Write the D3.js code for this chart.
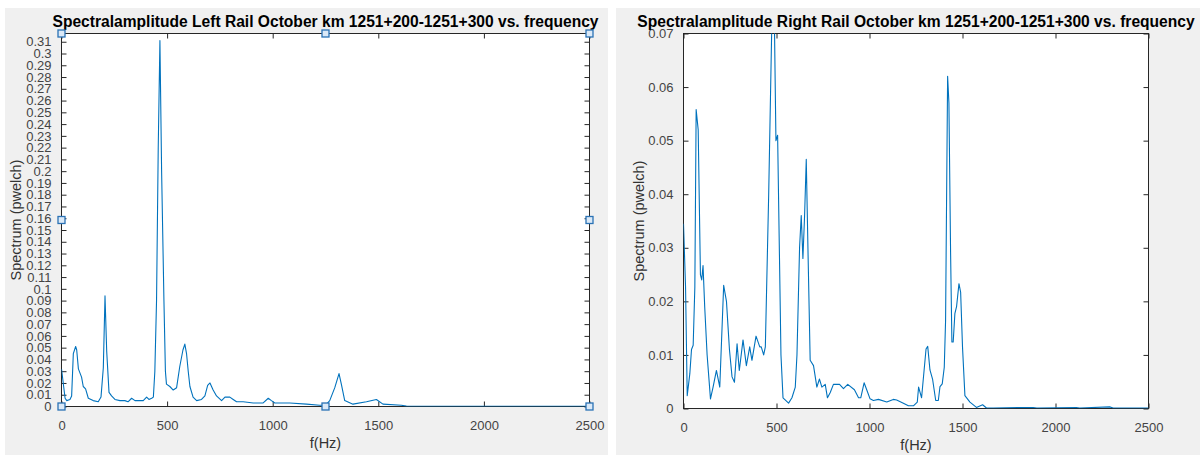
<!DOCTYPE html>
<html>
<head>
<meta charset="utf-8">
<script src="https://cdn.jsdelivr.net/npm/d3@7"></script>
<style>
    body { margin: 0; background: #fff; }
    svg { display: block; font-family: "Liberation Sans", Arial, sans-serif; }
    .tick text { fill: #444; font-size: 13px; }
    .tick line { stroke: #262626; }
    .domain { display: none; }
    .frame { fill: #fff; stroke: #262626; stroke-width: 1; }
    .curve { fill: none; stroke: #0072bd; stroke-width: 1.1; stroke-linejoin: round; }
    .title { font-weight: bold; font-size: 15.6px; fill: #000; }
    .label { font-size: 14.5px; fill: #333; }
    .handle { fill: #dbe9f7; stroke: #2a72b5; stroke-width: 1.3; }
</style>
</head>
<body>
<svg id="fig" width="1200" height="455"></svg>
<script>

var xTicks = [0, 500, 1000, 1500, 2000, 2500];

var leftTitle = "Spectralamplitude Left Rail October km 1251+200-1251+300 vs. frequency";
var leftYTicks = d3.range(0, 32).map(function(i) { return i / 100; });
var leftFreq = [0, 17, 25, 40, 48, 56, 67, 72, 80, 95, 103, 114, 127, 150, 174, 187, 198, 206, 214, 225,
    237, 253, 277, 300, 315, 332, 348, 371, 387, 403, 414, 427, 435, 442, 450, 458, 466, 474, 485, 492,
    497, 513, 529, 545, 560, 575, 584, 592, 600, 608, 623, 640, 663, 679, 692, 703, 718, 734, 758, 774,
    797, 813, 829, 860, 908, 955, 979, 994, 1010, 1081, 1160, 1222, 1250, 1270, 1294, 1314, 1325, 1341, 1380, 1444,
    1491, 1522, 1609, 1633, 2000, 2500];
var leftAmp = [0.032, 0.007, 0.005, 0.006, 0.009, 0.045, 0.051, 0.048, 0.032, 0.025, 0.017, 0.015, 0.007, 0.005, 0.004, 0.008, 0.033, 0.094, 0.047, 0.012,
    0.009, 0.006, 0.005, 0.005, 0.004, 0.007, 0.005, 0.005, 0.005, 0.008, 0.006, 0.007, 0.008, 0.03, 0.09, 0.22, 0.311, 0.2, 0.09, 0.03,
    0.019, 0.017, 0.014, 0.016, 0.034, 0.048, 0.053, 0.045, 0.03, 0.017, 0.008, 0.005, 0.006, 0.009, 0.018, 0.02, 0.014, 0.009, 0.005, 0.008,
    0.008, 0.006, 0.004, 0.004, 0.003, 0.003, 0.007, 0.005, 0.003, 0.003, 0.002, 0.001, 0.001, 0.005, 0.016, 0.028, 0.019, 0.005, 0.002, 0.004,
    0.006, 0.002, 0.001, 0.0003, 0.0002, 0.0002];

var rightTitle = "Spectralamplitude Right Rail October km 1251+200-1251+300 vs. frequency";
var rightYTicks = [0, 0.01, 0.02, 0.03, 0.04, 0.05, 0.06, 0.07];
var rightFreq = [0, 11, 20, 34, 43, 52, 61, 68, 79, 91, 98, 105, 114, 127, 145, 159, 177, 195, 216, 231,
    247, 261, 274, 288, 300, 320, 338, 356, 368, 390, 410, 418, 431, 440, 458, 476, 488, 497, 506, 524,
    535, 565, 583, 601, 610, 624, 633, 642, 651, 660, 669, 681, 699, 717, 731, 744, 762, 774, 789, 806,
    839, 860, 883, 919, 941, 953, 971, 985, 1003, 1021, 1048, 1093, 1128, 1146, 1182, 1209, 1236, 1257, 1264, 1280,
    1304, 1313, 1325, 1339, 1356, 1370, 1379, 1391, 1402, 1409, 1420, 1427, 1436, 1443, 1450, 1459, 1468, 1481, 1490, 1500,
    1513, 1540, 1575, 1608, 1629, 1665, 1880, 1900, 2112, 2130, 2291, 2310, 2500];
var rightAmp = [0.0345, 0.0227, 0.0024, 0.0065, 0.011, 0.0118, 0.0227, 0.0558, 0.052, 0.025, 0.024, 0.0267, 0.019, 0.01, 0.0018, 0.004, 0.0071, 0.004, 0.023, 0.02,
    0.011, 0.0059, 0.0049, 0.0121, 0.0071, 0.0128, 0.008, 0.0115, 0.009, 0.0135, 0.0115, 0.0115, 0.01, 0.0115, 0.04, 0.074, 0.074, 0.05, 0.051, 0.01,
    0.002, 0.001, 0.002, 0.004, 0.01, 0.03, 0.036, 0.028, 0.036, 0.0465, 0.03, 0.009, 0.008, 0.004, 0.0055, 0.004, 0.0045, 0.002, 0.003, 0.0045,
    0.0045, 0.0037, 0.0045, 0.0035, 0.002, 0.002, 0.0048, 0.0035, 0.0018, 0.0015, 0.0017, 0.0012, 0.0017, 0.0016, 0.001, 0.0005, 0.0005, 0.0012, 0.004, 0.002,
    0.0111, 0.0116, 0.0072, 0.0055, 0.0015, 0.0015, 0.0041, 0.0046, 0.0077, 0.0164, 0.062, 0.057, 0.029, 0.0124, 0.0124, 0.0177, 0.019, 0.0233, 0.0217, 0.0115,
    0.0024, 0.0012, 0.0002, 0.0007, 0.0001, 0.0001, 0.0002, 0.0001, 0.0002, 0.0001, 0.0003, 0.0001, 0.0001];


var svg = d3.select("#fig");

// two figure panels, grey like the matlab window
svg.append("rect").attr("x", 5).attr("y", 8).attr("width", 603).attr("height", 447).attr("fill", "#f0f0f0");
svg.append("rect").attr("x", 616).attr("y", 8).attr("width", 584).attr("height", 447).attr("fill", "#f0f0f0");

function fmt(d) {
    return d3.format(".2~f")(d);
}

function panel(opt) {
    var w = opt.right - opt.left
        , h = opt.bottom - opt.top
        , tk = opt.tick;

    var g = svg.append("g")
        .attr("transform", "translate(" + (opt.left + 0.5) + "," + (opt.top + 0.5) + ")");

    var x = d3.scaleLinear().domain([0, 2500]).range([0, w]);
    var y = d3.scaleLinear().domain([0, opt.ymax]).range([h, 0]);

    g.append("rect")
        .attr("class", "frame")
        .attr("width", w)
        .attr("height", h);

    g.append("clipPath")
        .attr("id", opt.id)
        .append("rect")
        .attr("width", w)
        .attr("height", h);

    // inward ticks on all four sides
    g.append("g")
        .attr("transform", "translate(0," + h + ")")
        .call(d3.axisBottom(x).tickValues(xTicks).tickSize(-tk).tickPadding(9 + tk).tickFormat(d3.format("d")));

    g.append("g")
        .call(d3.axisTop(x).tickValues(xTicks).tickSize(-tk).tickFormat(""));

    g.append("g")
        .call(d3.axisLeft(y).tickValues(opt.yticks).tickSize(-tk).tickPadding(5 + tk).tickFormat(fmt));

    g.append("g")
        .attr("transform", "translate(" + w + ",0)")
        .call(d3.axisRight(y).tickValues(opt.yticks).tickSize(-tk).tickFormat(""));

    var pts = opt.freq.map(function(f, i) { return [f, opt.amp[i]]; });

    var line = d3.line()
        .x(function(d) { return x(d[0]); })
        .y(function(d) { return y(d[1]); });

    g.append("path")
        .datum(pts)
        .attr("class", "curve")
        .attr("clip-path", "url(#" + opt.id + ")")
        .attr("d", line);

    g.append("text")
        .attr("class", "title")
        .attr("x", w / 2)
        .attr("y", -7)
        .attr("text-anchor", "middle")
        .text(opt.title);

    g.append("text")
        .attr("class", "label")
        .attr("x", w / 2)
        .attr("y", h + 41)
        .attr("text-anchor", "middle")
        .text("f(Hz)");

    g.append("text")
        .attr("class", "label")
        .attr("transform", "translate(" + opt.ylabelX + "," + (h / 2) + ") rotate(-90)")
        .attr("text-anchor", "middle")
        .text("Spectrum (pwelch)");

    if (opt.handles) {
        var hs = 7;
        var spots = [];
        [0, w / 2, w].forEach(function(hx) {
            [0, h / 2, h].forEach(function(hy) {
                if (hx === w / 2 && hy === h / 2) return;
                spots.push([hx, hy]);
            });
        });
        g.selectAll(".handle")
            .data(spots)
            .enter().append("rect")
            .attr("class", "handle")
            .attr("x", function(d) { return d[0] - hs / 2; })
            .attr("y", function(d) { return d[1] - hs / 2; })
            .attr("width", hs)
            .attr("height", hs);
    }
}

panel({
    id: "clipL", left: 61, right: 589, top: 33, bottom: 406,
    ymax: 0.317, yticks: leftYTicks, tick: 5,
    freq: leftFreq, amp: leftAmp,
    title: leftTitle, ylabelX: -41, handles: true
});

panel({
    id: "clipR", left: 683, right: 1148, top: 33, bottom: 408,
    ymax: 0.07, yticks: rightYTicks, tick: 5,
    freq: rightFreq, amp: rightAmp,
    title: rightTitle, ylabelX: -40, handles: false
});

</script>
</body>
</html>
